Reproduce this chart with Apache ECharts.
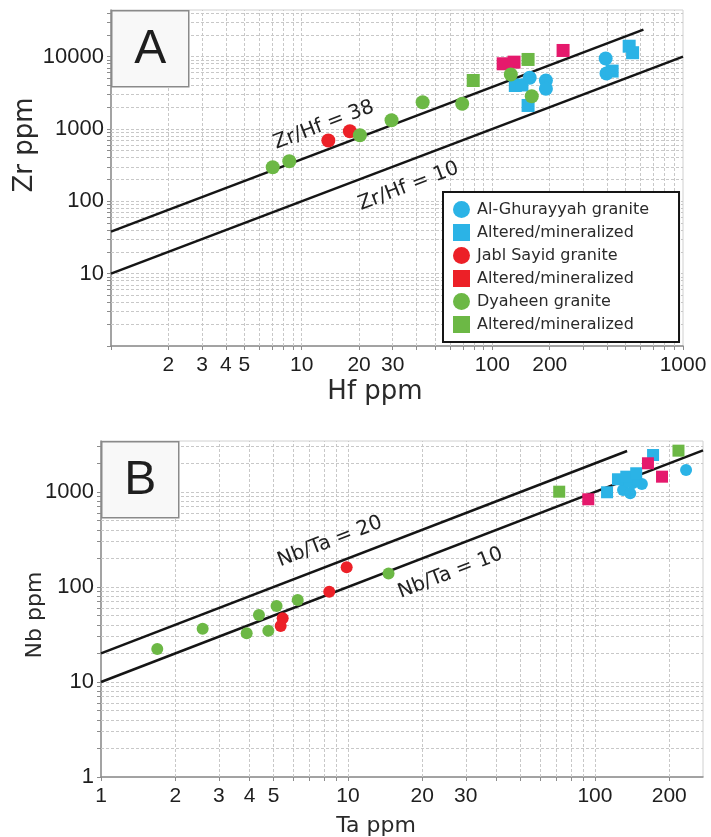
<!DOCTYPE html>
<html>
<head>
<meta charset="utf-8">
<script src="https://cdn.jsdelivr.net/npm/echarts@6/dist/echarts.min.js"></script>
<style>
  html, body { margin: 0; padding: 0; background: #ffffff; }
  #chart { width: 711px; height: 837px; }
</style>
</head>
<body>
<div id="chart"></div>
<script>
// ---- Panel A: Zr vs Hf (ppm) ----
const hfTickLabels = [2, 3, 4, 5, 10, 20, 30, 100, 200, 1000];
const zrTickLabels = [10, 100, 1000, 10000];

const agGraniteA   = [[157, 5090], [191, 4670], [191, 3590], [393, 9420], [397, 5840]];
const agAlteredA   = [[132, 3980], [143, 4050], [154, 2110], [425, 6300], [522, 13900], [544, 11300]];
const jsGraniteA   = [[13.8, 692], [17.9, 929]];
const jsAlteredA   = [[114, 7950], [130, 8370], [235, 12140]];
const dyGraniteA   = [[7.05, 295], [8.61, 357], [20.2, 818], [29.6, 1319], [43.1, 2340], [69.5, 2223], [125, 5650], [161, 2830]];
const dyAlteredA   = [[79.4, 4670], [154, 9120]];

// Zr/Hf reference ratios with the Hf span each line covers
const zrHfRatios = [38, 10];
const zrHfSpans  = [[1, 620], [1, 1000]];

// ---- Panel B: Nb vs Ta (ppm) ----
const taTickLabels = [1, 2, 3, 4, 5, 10, 20, 30, 100, 200];
const nbTickLabels = [1, 10, 100, 1000];

const agGraniteB   = [[130, 1050], [139, 969], [142, 1235], [155, 1214], [136, 1283], [147, 1337], [234, 1706]];
const agAlteredB   = [[112, 993], [124, 1361], [134, 1449], [147, 1574], [172, 2450]];
const jsGraniteB   = [[5.44, 46.8], [5.34, 38.9], [8.40, 89.3], [9.88, 161]];
const jsAlteredB   = [[94, 838], [164, 2005], [187, 1449]];
const dyGraniteB   = [[1.69, 22.3], [2.58, 36.4], [3.89, 32.6], [4.36, 50.7], [4.76, 34.7], [5.14, 63.1], [6.26, 73], [14.6, 139]];
const dyAlteredB   = [[71.7, 1007], [218, 2722]];

// Nb/Ta reference ratios with the Ta span each line covers
const nbTaRatios = [20, 10];
const nbTaSpans  = [[1, 135], [1, 274]];

// axis extents
const hfRange = [1, 1000], zrRange = [1, 44000];
const taRange = [1, 274],  nbRange = [1, 3440];

// ---- styling ----
const BLUE = '#2bb3e6', RED = '#ec2027', MAGENTA = '#e5196c', GREEN = '#6cb845';
const TICK_FONT = '"Liberation Sans", Arial, sans-serif';
const TEXT_FONT = '"DejaVu Sans", sans-serif';

const groups = [
  { name: 'Al-Ghurayyah granite', label: 'Al-Ghurayyah granite', icon: 'circle', color: BLUE,    a: agGraniteA, b: agGraniteB },
  { name: 'Al-Ghurayyah altered', label: 'Altered/mineralized',  icon: 'rect',   color: BLUE,    a: agAlteredA, b: agAlteredB },
  { name: 'Jabl Sayid granite',   label: 'Jabl Sayid granite',   icon: 'circle', color: RED,     a: jsGraniteA, b: jsGraniteB },
  { name: 'Jabl Sayid altered',   label: 'Altered/mineralized',  icon: 'rect',   color: MAGENTA, legendColor: RED, a: jsAlteredA, b: jsAlteredB },
  { name: 'Dyaheen granite',      label: 'Dyaheen granite',      icon: 'circle', color: GREEN,   a: dyGraniteA, b: dyGraniteB },
  { name: 'Dyaheen altered',      label: 'Altered/mineralized',  icon: 'rect',   color: GREEN,   a: dyAlteredA, b: dyAlteredB }
];

// every 1..9 x 10^k step inside [lo, hi], for ticks and grid lines
function logSteps(lo, hi) {
  const out = [];
  for (let e = Math.floor(Math.log10(lo)); Math.pow(10, e) <= hi; e++) {
    for (let m = 1; m < 10; m++) {
      const v = +(m * Math.pow(10, e)).toPrecision(6);
      if (v >= lo && v <= hi) out.push(v);
    }
  }
  return out;
}

function logAxis(gridIndex, range, labels, isY) {
  return {
    type: 'log', logBase: 10, gridIndex, min: range[0], max: range[1],
    axisLine: { show: true, lineStyle: { color: '#8c8c8c', width: 1.5 } },
    axisTick: { show: true, customValues: logSteps(range[0], range[1]), length: 4, lineStyle: { color: '#8c8c8c', width: 1 } },
    axisLabel: {
      customValues: labels, color: '#1e1e1e', fontFamily: TICK_FONT,
      fontSize: isY ? 22 : 21, margin: isY ? 7 : 9,
      formatter: v => String(Math.round(v))
    },
    splitLine: { show: false },
    minorTick: { show: false }, minorSplitLine: { show: false }
  };
}

// dashed background grid at every log step of both axes
function gridLines(gi, xr, yr) {
  const xs = logSteps(xr[0], xr[1]).filter(v => v > xr[0] && v < xr[1]);
  const ys = logSteps(yr[0], yr[1]).filter(v => v > yr[0] && v < yr[1]);
  return {
    type: 'scatter', xAxisIndex: gi, yAxisIndex: gi, silent: true, z: 1,
    data: [[xr[0], yr[0]]], symbolSize: 0, itemStyle: { opacity: 0 },
    markLine: {
      silent: true, z: 1, symbol: ['none', 'none'], label: { show: false },
      animation: false,
      lineStyle: { color: '#c8c8c8', width: 1, type: [3, 2] },
      emphasis: { disabled: true },
      data: xs.map(v => ({ xAxis: v })).concat(ys.map(v => ({ yAxis: v })))
    }
  };
}

function ratioLine(ratio, span, gi) {
  return {
    type: 'line', xAxisIndex: gi, yAxisIndex: gi, silent: true, z: 3,
    data: span.map(x => [x, x * ratio]),
    showSymbol: false, symbol: 'none',
    lineStyle: { color: '#151515', width: 2.5 }
  };
}

const series = [gridLines(0, hfRange, zrRange), gridLines(1, taRange, nbRange)];
zrHfRatios.forEach((r, i) => series.push(ratioLine(r, zrHfSpans[i], 0)));
nbTaRatios.forEach((r, i) => series.push(ratioLine(r, nbTaSpans[i], 1)));
groups.forEach(g => {
  [['a', 0], ['b', 1]].forEach(([key, gi]) => {
    const circle = g.icon === 'circle';
    series.push({
      type: 'scatter', name: g.name, xAxisIndex: gi, yAxisIndex: gi, z: 4,
      data: g[key],
      symbol: circle ? 'circle' : 'rect',
      symbolSize: gi === 0 ? (circle ? 14 : 13) : 12,
      itemStyle: { color: g.color, opacity: 1 }
    });
  });
});

const chart = echarts.init(document.getElementById('chart'), null, { renderer: 'canvas' });

const option = {
  backgroundColor: '#ffffff',
  animation: false,
  grid: [
    { left: 111, top: 10, width: 572, height: 336, show: true, borderColor: '#d0d0d0', borderWidth: 1, backgroundColor: '#ffffff', containLabel: false, outerBoundsMode: 'none' },
    { left: 101, top: 441, width: 602, height: 336, show: true, borderColor: '#d0d0d0', borderWidth: 1, backgroundColor: '#ffffff', containLabel: false, outerBoundsMode: 'none' }
  ],
  xAxis: [
    logAxis(0, hfRange, hfTickLabels, false),
    logAxis(1, taRange, taTickLabels, false)
  ],
  yAxis: [
    logAxis(0, zrRange, zrTickLabels, true),
    logAxis(1, nbRange, nbTickLabels, true)
  ],
  legend: {
    orient: 'vertical', left: 443, top: 192, z: 10,
    itemWidth: 17, itemHeight: 17, itemGap: 6,
    padding: [9, 30, 9, 10],
    backgroundColor: '#ffffff', borderColor: '#151515', borderWidth: 2, borderRadius: 0,
    selectedMode: false,
    textStyle: { fontFamily: TEXT_FONT, fontSize: 16, color: '#2a2a2a', padding: [0, 0, 0, 2] },
    formatter: name => groups.find(g => g.name === name).label,
    data: groups.map(g => ({ name: g.name, icon: g.icon, itemStyle: { color: g.legendColor || g.color } }))
  },
  series
};
chart.setOption(option);

// Text laid along a ratio line, offset perpendicular to it (positive = above)
function lineLabel(text, gi, ratio, x0, offset) {
  const p0 = chart.convertToPixel({ gridIndex: gi }, [x0, x0 * ratio]);
  const p1 = chart.convertToPixel({ gridIndex: gi }, [x0 * 2, x0 * 2 * ratio]);
  const ang = Math.atan2(p0[1] - p1[1], p1[0] - p0[0]);
  const cx = p0[0] - Math.sin(ang) * offset;
  const cy = p0[1] - Math.cos(ang) * offset;
  return {
    type: 'text', x: cx, y: cy, rotation: ang, z: 20, silent: true,
    style: { text, fill: '#222', font: '20px ' + TEXT_FONT, align: 'center', verticalAlign: 'middle' }
  };
}

function panelTag(letter, left, top) {
  return {
    type: 'group', left, top, z: 30, silent: true,
    children: [
      { type: 'rect', z: 30, shape: { x: 0, y: 0, width: 77, height: 76 }, style: { fill: '#f8f8f8', stroke: '#8a8a8a', lineWidth: 1.5 } },
      { type: 'text', z: 31, x: 38.5, y: 39, style: { text: letter, font: '48px ' + TICK_FONT, fill: '#1e1e1e', align: 'center', verticalAlign: 'middle' } }
    ]
  };
}

function axisTitle(text, x, y, size, vertical) {
  return {
    type: 'text', x, y, rotation: vertical ? Math.PI / 2 : 0, silent: true, z: 20,
    style: { text, font: size + 'px ' + TEXT_FONT, fill: '#2a2a2a', align: 'center', verticalAlign: 'middle' }
  };
}

chart.setOption({
  graphic: [
    lineLabel('Zr/Hf = 38', 0, 38, 14.5, 24),
    lineLabel('Zr/Hf = 10', 0, 10, 32.8, -24),
    lineLabel('Nb/Ta = 20', 1, 20, 9.1, 22),
    lineLabel('Nb/Ta = 10', 1, 10, 24, -24),
    panelTag('A', 111, 10),
    panelTag('B', 101, 441),
    axisTitle('Zr ppm', 25, 145, 26, true),
    axisTitle('Hf ppm', 375, 392, 26, false),
    axisTitle('Nb ppm', 35, 615, 22, true),
    axisTitle('Ta ppm', 376, 826, 22, false)
  ]
});
</script>
</body>
</html>
